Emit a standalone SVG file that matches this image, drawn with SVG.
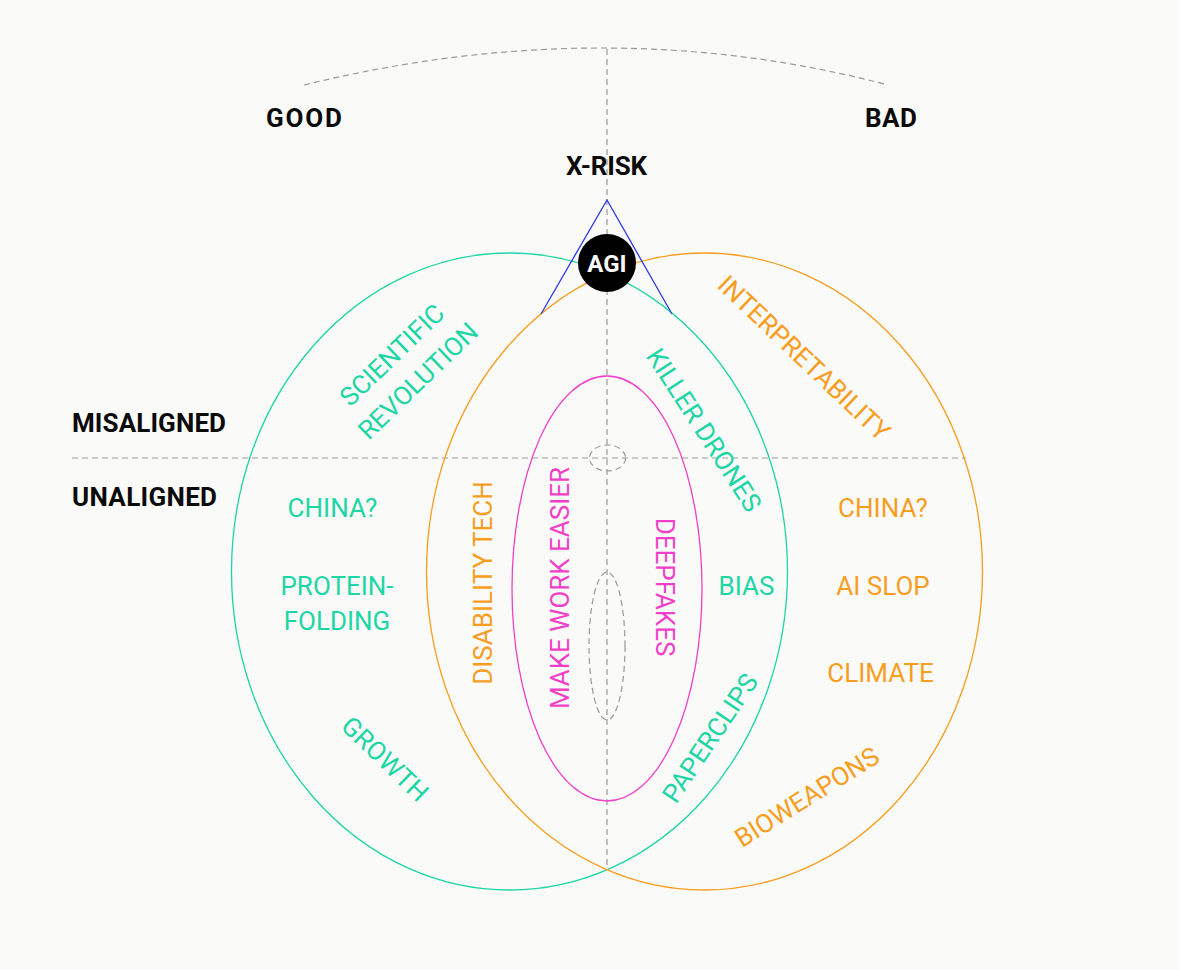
<svg xmlns="http://www.w3.org/2000/svg" width="1179" height="970" viewBox="0 0 1179 970">
<defs>
<style>
.dash{fill:none;stroke:#9a9a9a;stroke-width:1.2;stroke-dasharray:6 4}
.lbl{font-family:Roboto,"Liberation Sans",Arial,sans-serif;font-size:26px;font-weight:bold;fill:#0a0a0a}
.t{font-family:Roboto,"Liberation Sans",Arial,sans-serif;font-size:26px;text-anchor:middle}
.g{fill:#1dd6a5}
.o{fill:#f89d1e}
.m{fill:#f23fc9}
</style>
</defs>
<rect width="1179" height="970" fill="#fafaf8"/>
<g id="guides">
<path class="dash" d="M304,85 Q607,11 888,85"/>
<line class="dash" x1="607" y1="49" x2="607" y2="868"/>
<line class="dash" x1="72" y1="458" x2="966" y2="458"/>
<ellipse class="dash" cx="607.5" cy="458" rx="18" ry="13"/>
<ellipse class="dash" cx="607" cy="646" rx="18" ry="74"/>
</g>
<g id="ellipses">
<ellipse id="good-ellipse" cx="509.5" cy="571.5" rx="278" ry="318.5" fill="none" stroke="#1dd6a5" stroke-width="1.3"/>
<ellipse id="bad-ellipse" cx="704.5" cy="571.5" rx="278" ry="318.5" fill="none" stroke="#f89d1e" stroke-width="1.3"/>
<ellipse id="inner-ellipse" cx="607" cy="588.5" rx="95" ry="212.5" fill="none" stroke="#f23fc9" stroke-width="1.3"/>
</g>
<g id="connectors">
<polyline points="541,314 607,200 672,314" fill="none" stroke="#2a3be8" stroke-width="1.3"/>
</g>
<g id="agi">
<circle cx="607" cy="263" r="29" fill="#000"/>
<text x="607" y="272" class="t" style="font-weight:bold;font-size:24px" fill="#fff">AGI</text>
</g>
<g id="axis-labels">
<text class="lbl" x="266" y="127" textLength="76">GOOD</text>
<text class="lbl" x="865" y="127" textLength="52">BAD</text>
<text class="lbl" x="566" y="175" textLength="81">X-RISK</text>
<text class="lbl" x="72" y="432" textLength="154">MISALIGNED</text>
<text class="lbl" x="72" y="506" textLength="145">UNALIGNED</text>
</g>
<g id="good-labels">
<text class="t g" transform="translate(392,355) rotate(-44)" y="9">SCIENTIFIC</text>
<text class="t g" transform="translate(418,381) rotate(-44)" y="9">REVOLUTION</text>
<text class="t g" x="332.5" y="517">CHINA?</text>
<text class="t g" x="337" y="595">PROTEIN-</text>
<text class="t g" x="337" y="630">FOLDING</text>
<text class="t g" transform="translate(385,759) rotate(44)" y="9">GROWTH</text>
<text class="t g" transform="translate(704,430) rotate(57)" y="9">KILLER DRONES</text>
<text class="t g" x="746.5" y="595">BIAS</text>
<text class="t g" transform="translate(710,738) rotate(-56)" y="9">PAPERCLIPS</text>
</g>
<g id="bad-labels">
<text class="t o" transform="translate(804,358) rotate(43.5)" y="9">INTERPRETABILITY</text>
<text class="t o" x="883" y="517">CHINA?</text>
<text class="t o" x="883" y="595">AI SLOP</text>
<text class="t o" x="880.5" y="682">CLIMATE</text>
<text class="t o" transform="translate(807,797) rotate(-32)" y="9">BIOWEAPONS</text>
<text class="t o" transform="translate(483,583) rotate(-90)" y="9">DISABILITY TECH</text>
</g>
<g id="inner-labels">
<text class="t m" transform="translate(560,588) rotate(-90)" y="9">MAKE WORK EASIER</text>
<text class="t m" transform="translate(665,587) rotate(90)" y="9">DEEPFAKES</text>
</g>
</svg>
